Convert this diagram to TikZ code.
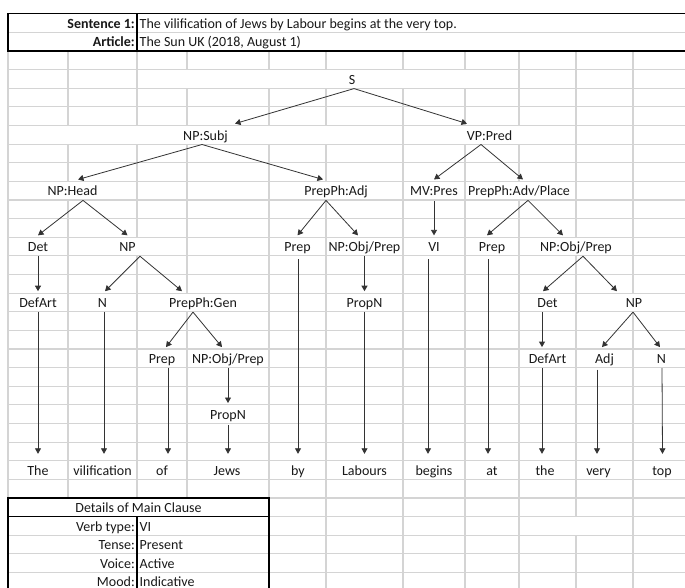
\documentclass[tikz,border=0pt]{standalone}
\usepackage{fontspec}
\setmainfont{Carlito}
\usetikzlibrary{arrows.meta}
\begin{document}
\begin{tikzpicture}[x=1pt,y=-1pt,
  font=\fontsize{14}{16}\selectfont,
  gridln/.style={draw=black!17, line width=1.2pt},
  boldln/.style={draw=black, line width=1.5pt},
  tn/.style={anchor=base, inner sep=0pt, text height=16.3pt, text depth=4.2pt, text=black!90},
  wd/.style={anchor=base, inner sep=0pt, text height=21.35pt, text depth=4pt, text=black!90},
  lab/.style={anchor=base east, inner sep=0pt, font=\fontsize{14}{16}\selectfont\bfseries, text=black!90},
  val/.style={anchor=base west, inner sep=0pt, text=black!90},
  arr/.style={draw=black!80, line width=0.8pt, -{Triangle[length=5.5pt,width=6pt]}}]
\useasboundingbox (0,0) rectangle (685,588);
\clip (0,0) rectangle (685,588);
\fill[white] (0,0) rectangle (685,588);

% ---- spreadsheet grid ----
\foreach \k in {1,...,28} \draw[gridln] (8,{51+18.625*\k}) -- (692,{51+18.625*\k});
\draw[gridln] (8,32.375) -- (692,32.375);
\draw[gridln] (8,51) -- (8,498);
\draw[gridln] (68,51) -- (68,125.5) (68,144.125) -- (68,181.375) (68,200) -- (68,498);
\draw[gridln] (137,51) -- (137,125.5) (137,144.125) -- (137,237.25) (137,255.875) -- (137,498);
\draw[gridln] (187,51) -- (187,69.625) (187,88.25) -- (187,125.5) (187,144.125) -- (187,293.125) (187,311.75) -- (187,498);
\draw[gridln] (269,51) -- (269,69.625) (269,88.25) -- (269,125.5) (269,144.125) -- (269,498);
\draw[gridln] (326,51) -- (326,69.625) (326,88.25) -- (326,125.5) (326,144.125) -- (326,181.375) (326,200) -- (326,592);
\draw[gridln] (403,51) -- (403,69.625) (403,88.25) -- (403,592);
\draw[gridln] (465,51) -- (465,69.625) (465,88.25) -- (465,125.5) (465,144.125) -- (465,592);
\draw[gridln] (519,51) -- (519,125.5) (519,144.125) -- (519,181.375) (519,200) -- (519,592);
\draw[gridln] (576,51) -- (576,237.25) (576,255.875) -- (576,516.625) (576,535.25) -- (576,592);
\draw[gridln] (633,51) -- (633,293.125) (633,311.75) -- (633,592);

% ---- header table ----
\draw[boldln] (8,13.75) rectangle (694,51);
\draw[boldln] (137,13.75) -- (137,51);
\node[lab] (sentlab) at (135,28.35) {Sentence 1:};
\node[val] (sentval) at (139.5,28.35) {The vilification of Jews by Labour begins at the very top.};
\node[lab] (artlab) at (135,46.97) {Article:};
\node[val] (artval) at (139.5,46.97) {The Sun UK (2018, August 1)};

% ---- details table ----
\fill[white] (8,498) rectangle (269,600);
\draw[gridln] (8,535.25) -- (269,535.25) (8,553.875) -- (269,553.875) (8,572.5) -- (269,572.5);
\draw[boldln] (8,498) rectangle (269,600);
\draw[boldln] (8,516.625) -- (269,516.625);
\draw[boldln] (137,516.625) -- (137,600);
\node[anchor=base, inner sep=0pt, text=black!90] (dettitle) at (138.5,512.6) {Details of Main Clause};
\node[lab, font=\fontsize{14}{16}\selectfont] (vtlab) at (135,531.2) {Verb type:};
\node[val] (vtval) at (139.5,531.2) {VI};
\node[lab, font=\fontsize{14}{16}\selectfont] (tnlab) at (135,549.85) {Tense:};
\node[val] (tnval) at (139.5,549.85) {Present};
\node[lab, font=\fontsize{14}{16}\selectfont] (vclab) at (135,568.5) {Voice:};
\node[val] (vcval) at (139.5,568.5) {Active};
\node[lab, font=\fontsize{14}{16}\selectfont, text depth=0pt] (mdlab) at (135,586) {Mood:};
\node[val, text depth=0pt] (mdval) at (139.5,586) {Indicative};

% ---- tree nodes ----
\node[tn] (S) at (352,84.2) {S};
\node[tn] (NPSubj) at (205.5,140.1) {NP:Subj};
\node[tn] (VPPred) at (489.5,140.1) {VP:Pred};
\node[tn] (NPHead) at (72.5,196) {NP:Head};
\node[tn] (PPAdj) at (336,196) {PrepPh:Adj};
\node[tn] (MVPres) at (434,196) {MV:Pres};
\node[tn] (PPAdv) at (519,196) {PrepPh:Adv/Place};
\node[tn] (Det) at (38,251.85) {Det};
\node[tn] (NPa) at (127.5,251.85) {NP};
\node[tn] (Prepby) at (297.5,251.85) {Prep};
\node[tn] (NPObja) at (364.5,251.85) {NP:Obj/Prep};
\node[tn] (VI) at (434,251.85) {VI};
\node[tn] (Prepat) at (492,251.85) {Prep};
\node[tn] (NPObjb) at (576,251.85) {NP:Obj/Prep};
\node[tn] (DefArta) at (38,307.7) {DefArt};
\node[tn] (Na) at (102.5,307.7) {N};
\node[tn] (PPGen) at (203,307.7) {PrepPh:Gen};
\node[tn] (PropNa) at (364.5,307.7) {PropN};
\node[tn] (Detb) at (547.5,307.7) {Det};
\node[tn] (NPb) at (634,307.7) {NP};
\node[tn] (Prepof) at (162,363.6) {Prep};
\node[tn] (NPObjc) at (228,363.6) {NP:Obj/Prep};
\node[tn] (DefArtb) at (547.5,363.6) {DefArt};
\node[tn] (Adj) at (604.5,363.6) {Adj};
\node[tn] (Nb) at (661.5,363.6) {N};
\node[tn] (PropNb) at (228,419.5) {PropN};

% ---- words ----
\node[wd] (wThe) at (38,475.35) {The};
\node[wd] (wvil) at (102.5,475.35) {vilification};
\node[wd] (wof) at (162,475.35) {of};
\node[wd] (wJews) at (227,475.35) {Jews};
\node[wd] (wby) at (298,475.35) {by};
\node[wd] (wLab) at (364.5,475.35) {Labours};
\node[wd] (wbegins) at (434,475.35) {begins};
\node[wd] (wat) at (492,475.35) {at};
\node[wd] (wthe) at (545,475.35) {the};
\node[wd] (wvery) at (598.5,475.35) {very};
\node[wd] (wtop) at (662,475.35) {top};

% ---- connectors ----
\draw[arr] ([xshift=2pt]S.south) -- ([xshift=29.5pt]NPSubj.north);
\draw[arr] ([xshift=2pt]S.south) -- ([xshift=-22.5pt]VPPred.north);
\draw[arr] ([xshift=-3.5pt]NPSubj.south) -- ([xshift=5.5pt]NPHead.north);
\draw[arr] ([xshift=-3.5pt]NPSubj.south) -- ([xshift=-13pt]PPAdj.north);
\draw[arr] ([xshift=-8.5pt]VPPred.south) -- (MVPres.north);
\draw[arr] ([xshift=-8.5pt]VPPred.south) -- ([xshift=4pt]PPAdv.north);
\draw[arr] ([xshift=10.5pt]NPHead.south) -- (Det.north);
\draw[arr] ([xshift=10.5pt]NPHead.south) -- (NPa.north);
\draw[arr] ([xshift=-10pt]PPAdj.south) -- (Prepby.north);
\draw[arr] ([xshift=-10pt]PPAdj.south) -- ([xshift=-6.5pt]NPObja.north);
\draw[arr] ([yshift=-1pt]MVPres.south) -- (VI.north);
\draw[arr] ([xshift=9pt]PPAdv.south) -- ([xshift=-5pt]Prepat.north);
\draw[arr] ([xshift=9pt]PPAdv.south) -- ([xshift=-13pt]NPObjb.north);
\draw[arr] (Det.south) -- (DefArta.north);
\draw[arr] ([xshift=12.5pt]NPa.south) -- ([xshift=2.5pt]Na.north);
\draw[arr] ([xshift=12.5pt]NPa.south) -- ([xshift=-21pt]PPGen.north);
\draw[arr] ([xshift=0.5pt,yshift=-3pt]Prepby.south) -- (wby.north);
\draw[arr] (NPObja.south) -- (PropNa.north);
\draw[arr] ([xshift=-6pt,yshift=-3pt]VI.south) -- ([xshift=-6pt]wbegins.north);
\draw[arr] ([xshift=-4pt,yshift=-3pt]Prepat.south) -- ([xshift=-4pt]wat.north);
\draw[arr] ([xshift=7pt]NPObjb.south) -- ([xshift=-4.5pt]Detb.north);
\draw[arr] ([xshift=7pt]NPObjb.south) -- ([xshift=-17pt]NPb.north);
\draw[arr] (DefArta.south) -- (wThe.north);
\draw[arr] ([xshift=1.5pt]Na.south) -- ([xshift=1.5pt]wvil.north);
\draw[arr] ([xshift=-10pt]PPGen.south) -- ([xshift=4pt]Prepof.north);
\draw[arr] ([xshift=-10pt]PPGen.south) -- ([xshift=-6pt]NPObjc.north);
\draw[arr] (PropNa.south) -- (wLab.north);
\draw[arr] ([xshift=-5.5pt]Detb.south) -- ([xshift=-5.5pt]DefArtb.north);
\draw[arr] ([xshift=-1pt]NPb.south) -- ([xshift=-2.5pt]Adj.north);
\draw[arr] ([xshift=-1pt]NPb.south) -- ([xshift=-1.5pt]Nb.north);
\draw[arr] ([xshift=6pt]Prepof.south) -- ([xshift=6pt]wof.north);
\draw[arr] (NPObjc.south) -- (PropNb.north);
\draw[arr] ([xshift=-5.5pt]DefArtb.south) -- ([xshift=-3pt]wthe.north);
\draw[arr] ([xshift=-7.5pt,yshift=-1.5pt]Adj.south) -- ([xshift=-1.5pt]wvery.north);
\draw[arr] ([xshift=0.5pt]Nb.south) -- ([xshift=0.5pt]wtop.north);
\draw[arr] ([yshift=-1pt]PropNb.south) -- ([xshift=1pt]wJews.north);
\end{tikzpicture}
\end{document}
